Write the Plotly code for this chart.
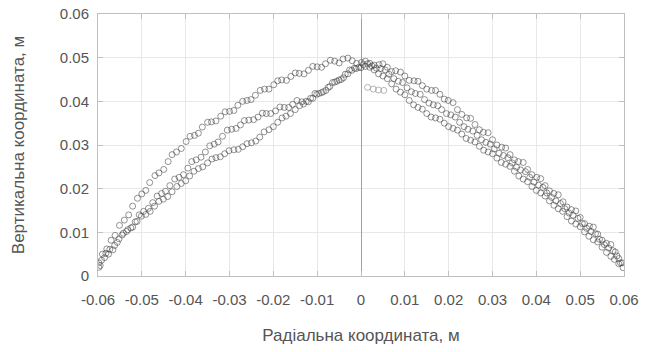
import plotly.graph_objects as go

# Upper band on the left (two rows of the cloud)
x_a = [-0.0598,-0.0580,-0.0561,-0.0540,-0.0521,-0.0500,-0.0482,-0.0461,-0.0440,-0.0421,-0.0399,-0.0380,-0.0362,-0.0341,-0.0320,-0.0300,-0.0281,-0.0260,-0.0241,-0.0220,-0.0199,-0.0181,-0.0160,-0.0141,-0.0120,-0.0100,-0.0081,-0.0060,-0.0041,-0.0020,0.0001,0.0020,0.0041,0.0060,0.0079,0.0100,0.0121,0.0140,0.0161,0.0180,0.0199,0.0220,0.0241,0.0260,0.0279,0.0300,0.0321,0.0340,0.0359,0.0380,0.0401,0.0420,0.0440,0.0461,0.0480,0.0500,0.0521,0.0540,0.0560,0.0580,0.0596]
y_a = [0.0030,0.0062,0.0093,0.0128,0.0160,0.0188,0.0214,0.0236,0.0262,0.0284,0.0308,0.0322,0.0341,0.0353,0.0366,0.0377,0.0391,0.0402,0.0414,0.0428,0.0438,0.0449,0.0457,0.0464,0.0471,0.0479,0.0486,0.0492,0.0497,0.0493,0.0489,0.0487,0.0484,0.0478,0.0470,0.0458,0.0447,0.0436,0.0425,0.0416,0.0402,0.0381,0.0362,0.0347,0.0329,0.0312,0.0295,0.0278,0.0262,0.0244,0.0226,0.0207,0.0189,0.0170,0.0152,0.0134,0.0114,0.0096,0.0075,0.0055,0.0030]
x_a2 = [-0.0590,-0.0570,-0.0551,-0.0530,-0.0510,-0.0491,-0.0470,-0.0450,-0.0431,-0.0410,-0.0390,-0.0371,-0.0350,-0.0331,-0.0310,-0.0290,-0.0270,-0.0251,-0.0230,-0.0210,-0.0190,-0.0170,-0.0150,-0.0130,-0.0110,-0.0090,-0.0070,-0.0050,-0.0030,-0.0010,0.0010,0.0030,0.0050,0.0070,0.0090,0.0110,0.0130,0.0150,0.0170,0.0190,0.0210,0.0230,0.0250,0.0270,0.0290,0.0310,0.0330,0.0350,0.0370,0.0390,0.0410,0.0430,0.0450,0.0470,0.0490,0.0510,0.0530,0.0550,0.0570,0.0588]
y_a2 = [0.0050,0.0082,0.0116,0.0140,0.0178,0.0196,0.0230,0.0244,0.0278,0.0292,0.0320,0.0327,0.0352,0.0355,0.0376,0.0379,0.0400,0.0404,0.0425,0.0428,0.0447,0.0448,0.0465,0.0463,0.0480,0.0478,0.0494,0.0488,0.0499,0.0487,0.0492,0.0483,0.0486,0.0468,0.0467,0.0448,0.0446,0.0428,0.0425,0.0405,0.0397,0.0370,0.0361,0.0335,0.0328,0.0300,0.0293,0.0266,0.0260,0.0232,0.0223,0.0195,0.0186,0.0158,0.0149,0.0120,0.0112,0.0082,0.0072,0.0040]

# Middle band
x_b = [-0.0595,-0.0576,-0.0556,-0.0535,-0.0515,-0.0496,-0.0475,-0.0455,-0.0436,-0.0415,-0.0395,-0.0376,-0.0355,-0.0335,-0.0316,-0.0295,-0.0275,-0.0256,-0.0235,-0.0216,-0.0195,-0.0175,-0.0156,-0.0135,-0.0115,-0.0096,-0.0075,-0.0055,-0.0036,-0.0015,0.0005,0.0025,0.0045,0.0064,0.0085,0.0105,0.0124,0.0145,0.0165,0.0184,0.0205,0.0225,0.0244,0.0265,0.0285,0.0304,0.0325,0.0345,0.0364,0.0385,0.0405,0.0424,0.0445,0.0465,0.0484,0.0505,0.0525,0.0544,0.0565,0.0584,0.0598]
y_b = [0.0024,0.0050,0.0077,0.0102,0.0124,0.0148,0.0168,0.0189,0.0207,0.0226,0.0247,0.0266,0.0284,0.0302,0.0320,0.0336,0.0346,0.0357,0.0364,0.0372,0.0378,0.0386,0.0393,0.0399,0.0407,0.0418,0.0432,0.0446,0.0462,0.0476,0.0484,0.0481,0.0475,0.0462,0.0446,0.0431,0.0418,0.0404,0.0392,0.0381,0.0369,0.0352,0.0336,0.0322,0.0306,0.0291,0.0276,0.0259,0.0243,0.0226,0.0208,0.0190,0.0172,0.0154,0.0139,0.0120,0.0102,0.0084,0.0064,0.0046,0.0019]
x_b2 = [-0.0585,-0.0566,-0.0545,-0.0525,-0.0506,-0.0485,-0.0465,-0.0446,-0.0425,-0.0405,-0.0386,-0.0365,-0.0345,-0.0326,-0.0305,-0.0285,-0.0266,-0.0245,-0.0225,-0.0206,-0.0185,-0.0165,-0.0146,-0.0125,-0.0105,-0.0086,-0.0065,-0.0045,-0.0026,-0.0005,0.0015,0.0035,0.0055,0.0075,0.0095,0.0115,0.0135,0.0155,0.0175,0.0195,0.0215,0.0235,0.0255,0.0275,0.0295,0.0315,0.0335,0.0355,0.0375,0.0395,0.0415,0.0435,0.0455,0.0475,0.0495,0.0515,0.0535,0.0555,0.0575,0.0592]
y_b2 = [0.0042,0.0060,0.0094,0.0110,0.0140,0.0155,0.0183,0.0194,0.0222,0.0232,0.0262,0.0272,0.0298,0.0307,0.0334,0.0338,0.0356,0.0358,0.0373,0.0372,0.0387,0.0386,0.0402,0.0400,0.0418,0.0422,0.0443,0.0450,0.0472,0.0478,0.0486,0.0476,0.0472,0.0452,0.0443,0.0422,0.0416,0.0396,0.0390,0.0372,0.0364,0.0342,0.0332,0.0312,0.0302,0.0281,0.0271,0.0249,0.0239,0.0215,0.0203,0.0180,0.0166,0.0144,0.0132,0.0109,0.0097,0.0072,0.0058,0.0030]

# Lower band
x_c = [-0.0592,-0.0573,-0.0552,-0.0532,-0.0511,-0.0491,-0.0471,-0.0451,-0.0431,-0.0410,-0.0391,-0.0371,-0.0350,-0.0331,-0.0311,-0.0290,-0.0270,-0.0250,-0.0231,-0.0210,-0.0190,-0.0171,-0.0150,-0.0131,-0.0110,-0.0090,-0.0071,-0.0050,-0.0030,-0.0011,0.0010,0.0030,0.0050,0.0070,0.0090,0.0110,0.0130,0.0150,0.0170,0.0190,0.0210,0.0230,0.0250,0.0270,0.0290,0.0310,0.0330,0.0350,0.0370,0.0390,0.0410,0.0430,0.0450,0.0470,0.0490,0.0510,0.0530,0.0550,0.0570,0.0588]
y_c = [0.0036,0.0061,0.0085,0.0106,0.0125,0.0141,0.0160,0.0176,0.0193,0.0212,0.0229,0.0246,0.0259,0.0271,0.0280,0.0289,0.0296,0.0305,0.0318,0.0335,0.0352,0.0366,0.0381,0.0394,0.0407,0.0420,0.0434,0.0449,0.0463,0.0475,0.0480,0.0472,0.0458,0.0440,0.0421,0.0402,0.0386,0.0372,0.0362,0.0350,0.0338,0.0325,0.0311,0.0297,0.0284,0.0270,0.0256,0.0240,0.0222,0.0205,0.0190,0.0172,0.0154,0.0136,0.0119,0.0101,0.0083,0.0066,0.0045,0.0028]
x_c2 = [-0.0598,-0.0582,-0.0562,-0.0542,-0.0521,-0.0501,-0.0481,-0.0461,-0.0441,-0.0420,-0.0400,-0.0381,-0.0361,-0.0340,-0.0321,-0.0301,-0.0280,-0.0260,-0.0240,-0.0221,-0.0200,-0.0180,-0.0161,-0.0140,-0.0120,-0.0101,-0.0080,-0.0060,-0.0040,-0.0021,0.0000,0.0020,0.0040,0.0060,0.0080,0.0100,0.0120,0.0140,0.0160,0.0180,0.0200,0.0220,0.0240,0.0260,0.0280,0.0300,0.0320,0.0340,0.0360,0.0380,0.0400,0.0420,0.0440,0.0460,0.0480,0.0500,0.0520,0.0540,0.0560,0.0578]
y_c2 = [0.0020,0.0052,0.0070,0.0098,0.0112,0.0137,0.0148,0.0171,0.0182,0.0205,0.0218,0.0240,0.0250,0.0268,0.0273,0.0287,0.0290,0.0303,0.0309,0.0330,0.0342,0.0362,0.0372,0.0390,0.0399,0.0416,0.0425,0.0444,0.0454,0.0471,0.0477,0.0478,0.0463,0.0452,0.0428,0.0415,0.0392,0.0382,0.0364,0.0359,0.0342,0.0334,0.0315,0.0307,0.0288,0.0280,0.0260,0.0251,0.0229,0.0216,0.0196,0.0183,0.0162,0.0148,0.0126,0.0113,0.0091,0.0078,0.0054,0.0038]

# Short pale group near the apex
x_d = [0.0015, 0.0028, 0.0040, 0.0052]
y_d = [0.0432, 0.0428, 0.0426, 0.0425]

x_ticks = [-0.06, -0.05, -0.04, -0.03, -0.02, -0.01, 0, 0.01, 0.02, 0.03, 0.04, 0.05, 0.06]
x_tick_labels = ["-0.06", "-0.05", "-0.04", "-0.03", "-0.02", "-0.01", "0", "0.01", "0.02", "0.03", "0.04", "0.05", "0.06"]
y_ticks = [0, 0.01, 0.02, 0.03, 0.04, 0.05, 0.06]
y_tick_labels = ["0", "0.01", "0.02", "0.03", "0.04", "0.05", "0.06"]

x_title = "Радіальна координата, м"
y_title = "Вертикальна координата, м"

marker = dict(symbol="circle-open", size=6, color="rgba(60,60,60,0.55)", line=dict(width=1))

fig = go.Figure()
for xs, ys in [(x_a, y_a), (x_a2, y_a2), (x_b, y_b), (x_b2, y_b2), (x_c, y_c), (x_c2, y_c2)]:
    fig.add_trace(go.Scatter(x=xs, y=ys, mode="markers", marker=marker, showlegend=False))
fig.add_trace(go.Scatter(x=x_d, y=y_d, mode="markers", showlegend=False,
                         marker=dict(symbol="circle-open", size=6, color="rgba(150,150,150,0.7)", line=dict(width=1))))

tick_font = dict(family="Liberation Sans, Arial, sans-serif", size=15, color="#555")
title_font = dict(family="Liberation Sans, Arial, sans-serif", size=17, color="#555")

fig.update_layout(
    width=648, height=352,
    margin=dict(l=98, r=24, t=14, b=76, autoexpand=False),
    paper_bgcolor="white", plot_bgcolor="white",
    font=tick_font,
)
fig.update_xaxes(
    range=[-0.06, 0.06], tickvals=x_ticks, ticktext=x_tick_labels,
    showgrid=True, gridcolor="#e8e8e8", gridwidth=1,
    zeroline=True, zerolinecolor="#a0a0a0", zerolinewidth=1,
    showline=True, linecolor="#c0c0c0", linewidth=1, mirror="ticks",
    ticks="inside", ticklen=5, tickcolor="#c0c0c0",
    tickfont=tick_font, automargin=False, ticklabelstandoff=10,
    title=dict(text=x_title, font=title_font, standoff=22),
)
fig.update_yaxes(
    range=[0, 0.06], tickvals=y_ticks, ticktext=y_tick_labels,
    showgrid=True, gridcolor="#e8e8e8", gridwidth=1,
    zeroline=False,
    showline=True, linecolor="#c0c0c0", linewidth=1, mirror="ticks",
    ticks="inside", ticklen=5, tickcolor="#c0c0c0",
    tickfont=tick_font, automargin=False, ticklabelstandoff=5,
    title=dict(text=y_title, font=title_font, standoff=30),
)

fig.write_html("out.html", post_script="document.body.style.margin='0';",
               config={"displayModeBar": False})
